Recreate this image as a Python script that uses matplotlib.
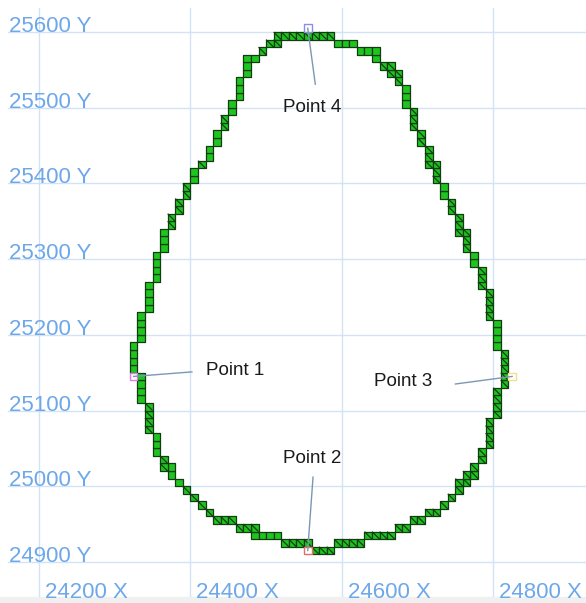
import matplotlib
matplotlib.use("Agg")
import matplotlib.pyplot as plt
from matplotlib.patches import Rectangle
from matplotlib.collections import PatchCollection, LineCollection

plt.rcParams['font.family'] = ['Liberation Sans', 'DejaVu Sans']

# grid values
x_ticks = [24200, 24400, 24600, 24800]
y_ticks = [24900, 25000, 25100, 25200, 25300, 25400, 25500, 25600]
x_tick_labels = ['24200 X', '24400 X', '24600 X', '24800 X']
y_tick_labels = ['24900 Y', '25000 Y', '25100 Y', '25200 Y',
                 '25300 Y', '25400 Y', '25500 Y', '25600 Y']

cell = 10
# outline cells, as runs: (x_first, x_last, y_first, y_last, hatched)
outline_runs = [
    (24510, 24580, 25590, 25590, 1),
    (24590, 24610, 25580, 25580, 0),
    (24620, 24630, 25570, 25570, 0),
    (24640, 24640, 25560, 25570, 0),
    (24650, 24650, 25550, 25550, 1),
    (24660, 24660, 25540, 25550, 1),
    (24670, 24670, 25530, 25540, 1),
    (24680, 24680, 25500, 25520, 0),
    (24690, 24690, 25470, 25490, 1),
    (24700, 24700, 25450, 25460, 1),
    (24710, 24710, 25420, 25440, 1),
    (24720, 24720, 25400, 25420, 1),
    (24730, 24730, 25380, 25390, 0),
    (24740, 24740, 25360, 25370, 1),
    (24750, 24750, 25330, 25350, 1),
    (24760, 24760, 25310, 25330, 1),
    (24770, 24770, 25290, 25300, 0),
    (24780, 24780, 25260, 25280, 1),
    (24790, 24790, 25220, 25250, 1),
    (24800, 24800, 25180, 25210, 0),
    (24810, 24810, 25130, 25170, 1),
    (24800, 24800, 25090, 25120, 1),
    (24790, 24790, 25050, 25080, 1),
    (24780, 24780, 25030, 25040, 1),
    (24770, 24770, 25010, 25020, 1),
    (24760, 24760, 25000, 25010, 1),
    (24750, 24750, 24990, 25000, 1),
    (24740, 24740, 24980, 24980, 1),
    (24730, 24730, 24970, 24970, 1),
    (24710, 24720, 24960, 24960, 1),
    (24690, 24700, 24950, 24950, 1),
    (24670, 24680, 24940, 24940, 1),
    (24630, 24660, 24930, 24930, 1),
    (24590, 24620, 24920, 24920, 1),
    (24560, 24580, 24910, 24910, 1),
    (24520, 24550, 24920, 24920, 1),
    (24480, 24510, 24930, 24930, 0),
    (24480, 24480, 24940, 24940, 1),
    (24460, 24470, 24940, 24940, 1),
    (24430, 24450, 24950, 24950, 1),
    (24420, 24420, 24960, 24960, 1),
    (24410, 24410, 24970, 24970, 1),
    (24400, 24400, 24980, 24980, 1),
    (24390, 24390, 24990, 24990, 1),
    (24380, 24380, 25000, 25000, 0),
    (24370, 24370, 25010, 25020, 0),
    (24360, 24360, 25020, 25030, 1),
    (24350, 24350, 25040, 25060, 0),
    (24340, 24340, 25070, 25100, 1),
    (24330, 24330, 25110, 25140, 0),
    (24320, 24320, 25150, 25180, 0),
    (24330, 24330, 25190, 25220, 0),
    (24340, 24340, 25230, 25260, 0),
    (24350, 24350, 25270, 25300, 0),
    (24360, 24360, 25310, 25330, 0),
    (24370, 24370, 25340, 25350, 1),
    (24380, 24380, 25360, 25370, 1),
    (24390, 24390, 25380, 25390, 1),
    (24400, 24400, 25400, 25410, 0),
    (24410, 24410, 25420, 25420, 1),
    (24420, 24420, 25430, 25440, 0),
    (24430, 24430, 25450, 25460, 0),
    (24440, 24440, 25470, 25480, 1),
    (24450, 24450, 25490, 25500, 0),
    (24460, 24460, 25510, 25530, 0),
    (24470, 24470, 25540, 25560, 0),
    (24480, 24480, 25560, 25560, 0),
    (24490, 24490, 25570, 25570, 1),
    (24500, 24510, 25580, 25580, 1),
]

# marked points
point_names = ['Point 1', 'Point 2', 'Point 3', 'Point 4']
point_x = [24320, 24550, 24820, 24550]
point_y = [25140, 24910, 25140, 25600]
point_colors = ['#e07ce6', '#e86a6a', '#f2e08a', '#8c8ce6']
label_x = [24421, 24561, 24643, 24561]
label_y = [25153, 25037, 25138, 25500]
leader_from = [(24402, 25151), (24562, 25012), (24750, 25135), (24565, 25531)]

fig = plt.figure(figsize=(5.86, 6.03), dpi=100)
ax = fig.add_axes([0, 0, 1, 1])
ax.set_xlim(24148.5, 24922.6)
ax.set_ylim(24845.7, 25642.3)
ax.axis('off')

grid_c = '#d3e3f6'
lab_c = '#6ea8e8'
for v, t in zip(y_ticks, y_tick_labels):
    ax.axhline(v, xmin=8 / 586, color=grid_c, lw=1.0, zorder=0)
    ax.text(24161, v, t, color=lab_c, fontsize=16, va='baseline', ha='left', zorder=1)
for v, t in zip(x_ticks, x_tick_labels):
    ax.axvline(v, ymin=6 / 603, ymax=1 - 8 / 603, color=grid_c, lw=1.0, zorder=0)
    ax.text(v + 8, 24852, t, color=lab_c, fontsize=16, va='baseline', ha='left', zorder=1)
ax.axhspan(24845.7, 24853, color='#f0f0f0', zorder=0)

rects = []
diag = []
for x0, x1, y0, y1, h in outline_runs:
    for x in range(x0, x1 + 1, cell):
        for y in range(y0, y1 + 1, cell):
            rects.append(Rectangle((x, y), cell, cell))
            if h:
                diag.append([(x, y + cell), (x + cell, y)])
ax.add_collection(PatchCollection(rects, facecolor='#1ec51e', edgecolor='#143c14',
                                  linewidth=0.9, zorder=3))
ax.add_collection(LineCollection(diag, colors='#143c14', linewidths=0.9, zorder=4))

for i, name in enumerate(point_names):
    ax.add_patch(Rectangle((point_x[i], point_y[i]), cell, cell, facecolor='white',
                           edgecolor=point_colors[i], lw=1.0, zorder=5))
    px = point_x[i] + cell / 2
    py = point_y[i] + cell / 2
    fx, fy = leader_from[i]
    ax.plot([fx, px], [fy, py], color='#7a98b4', lw=1.0, zorder=6)
    ax.text(label_x[i], label_y[i], name, fontsize=13.5, color='#1a1a1a',
            va='center', ha='center' if i in (1, 3) else 'left', zorder=7)

plt.savefig('out.png', dpi=100)
